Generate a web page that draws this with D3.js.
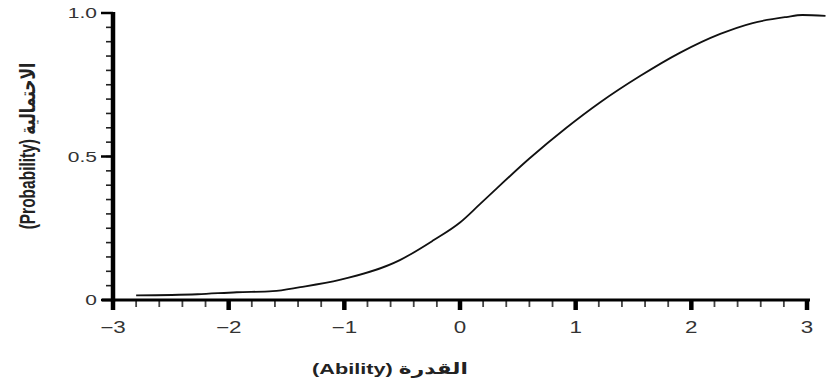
<!DOCTYPE html>
<html>
<head>
<meta charset="utf-8">
<script src="https://cdn.jsdelivr.net/npm/d3@7"></script>
<style>
  body { margin: 0; background: #fff; }
  svg { display: block; font-family: "Liberation Sans", Arial, "DejaVu Sans", sans-serif; }
</style>
</head>
<body>
<div id="chart"></div>
<script>
// curve
const ability = [-2.8, -2.27, -1.93, -1.62, -1.38, -1.04, -0.52, -0.23, 0, 0.17, 0.6, 0.92, 1.21, 1.56, 1.9, 2.25, 2.53, 2.82, 2.96, 3.16];
const probability = [0.016, 0.02, 0.027, 0.031, 0.045, 0.07, 0.139, 0.208, 0.27, 0.333, 0.493, 0.6, 0.688, 0.781, 0.861, 0.927, 0.965, 0.986, 0.993, 0.99];

const xTicks = [-3, -2, -1, 0, 1, 2, 3];
const xTickLabels = ["−3", "−2", "−1", "0", "1", "2", "3"];
const yTicks = [0, 0.5, 1];
const yTickLabels = ["0", "0.5", "1.0"];
const xLabel = "(Ability) القدرة";
const yLabel = "(Probability) الاحتمالية";

const width = 826;
const height = 385;
const sx = 1.4; // the picture is stretched sideways

const svg = d3.select("#chart")
  .append("svg")
  .attr("width", width)
  .attr("height", height);

const x = d3.scaleLinear().domain([-3, 3]).range([113, 807]);
const y = d3.scaleLinear().domain([0, 1]).range([300, 13]);

const xMinor = d3.range(-3, 3.001, 0.2).map(v => +v.toFixed(1));
const yMinor = d3.range(0, 1.001, 0.05).map(v => +v.toFixed(2));

const axes = svg.append("g");

// minor ticks
axes.selectAll(".x-minor")
  .data(xMinor)
  .enter()
  .append("line")
  .attr("x1", d => x(d))
  .attr("x2", d => x(d))
  .attr("y1", y(0))
  .attr("y2", y(0) + 7)
  .attr("stroke", "#444")
  .attr("stroke-width", 1.8);

axes.selectAll(".y-minor")
  .data(yMinor)
  .enter()
  .append("line")
  .attr("x1", x(-3) - 7)
  .attr("x2", x(-3))
  .attr("y1", d => y(d))
  .attr("y2", d => y(d))
  .attr("stroke", "#222")
  .attr("stroke-width", 1.6);

// major ticks
axes.selectAll(".x-major")
  .data(xTicks)
  .enter()
  .append("line")
  .attr("x1", d => x(d))
  .attr("x2", d => x(d))
  .attr("y1", y(0))
  .attr("y2", y(0) + 10)
  .attr("stroke", "#000")
  .attr("stroke-width", 4.5);

axes.selectAll(".y-major")
  .data(yTicks)
  .enter()
  .append("line")
  .attr("x1", x(-3) - 12)
  .attr("x2", x(-3))
  .attr("y1", d => y(d))
  .attr("y2", d => y(d))
  .attr("stroke", "#000")
  .attr("stroke-width", 2.5);

// axis lines
axes.append("line")
  .attr("x1", x(-3) - 11)
  .attr("x2", x(3) + 3)
  .attr("y1", y(0))
  .attr("y2", y(0))
  .attr("stroke", "#000")
  .attr("stroke-width", 3);

axes.append("line")
  .attr("x1", x(-3))
  .attr("x2", x(-3))
  .attr("y1", y(1) - 1)
  .attr("y2", y(0) + 1.5)
  .attr("stroke", "#000")
  .attr("stroke-width", 4.5);

// tick labels
axes.selectAll(".x-label")
  .data(xTicks)
  .enter()
  .append("text")
  .attr("transform", d => `translate(${x(d)},${y(0) + 33}) scale(${sx},1)`)
  .attr("text-anchor", "middle")
  .attr("font-size", 16)
  .attr("fill", "#333")
  .text((d, i) => xTickLabels[i]);

axes.selectAll(".y-label")
  .data(yTicks)
  .enter()
  .append("text")
  .attr("transform", d => `translate(${x(-3) - 16},${y(d)}) scale(${sx},1)`)
  .attr("text-anchor", "end")
  .attr("dy", "0.35em")
  .attr("font-size", 15)
  .attr("fill", "#333")
  .text((d, i) => yTickLabels[i]);

// curve
const points = ability.map((a, i) => ({ a: a, p: probability[i] }));

const line = d3.line()
  .x(d => x(d.a))
  .y(d => y(d.p))
  .curve(d3.curveMonotoneX);

svg.append("path")
  .datum(points)
  .attr("fill", "none")
  .attr("stroke", "#111")
  .attr("stroke-width", 1.8)
  .attr("d", line);

// axis titles
svg.append("text")
  .attr("transform", `translate(390,374) scale(${sx},1)`)
  .attr("text-anchor", "middle")
  .attr("font-size", 15.5)
  .attr("font-weight", "bold")
  .attr("fill", "#222")
  .text(xLabel);

svg.append("text")
  .attr("transform", `translate(28,146) scale(${sx},1) rotate(-90)`)
  .attr("text-anchor", "middle")
  .attr("dominant-baseline", "central")
  .attr("font-size", 15.5)
  .attr("font-weight", "bold")
  .attr("fill", "#222")
  .text(yLabel);
</script>
</body>
</html>
